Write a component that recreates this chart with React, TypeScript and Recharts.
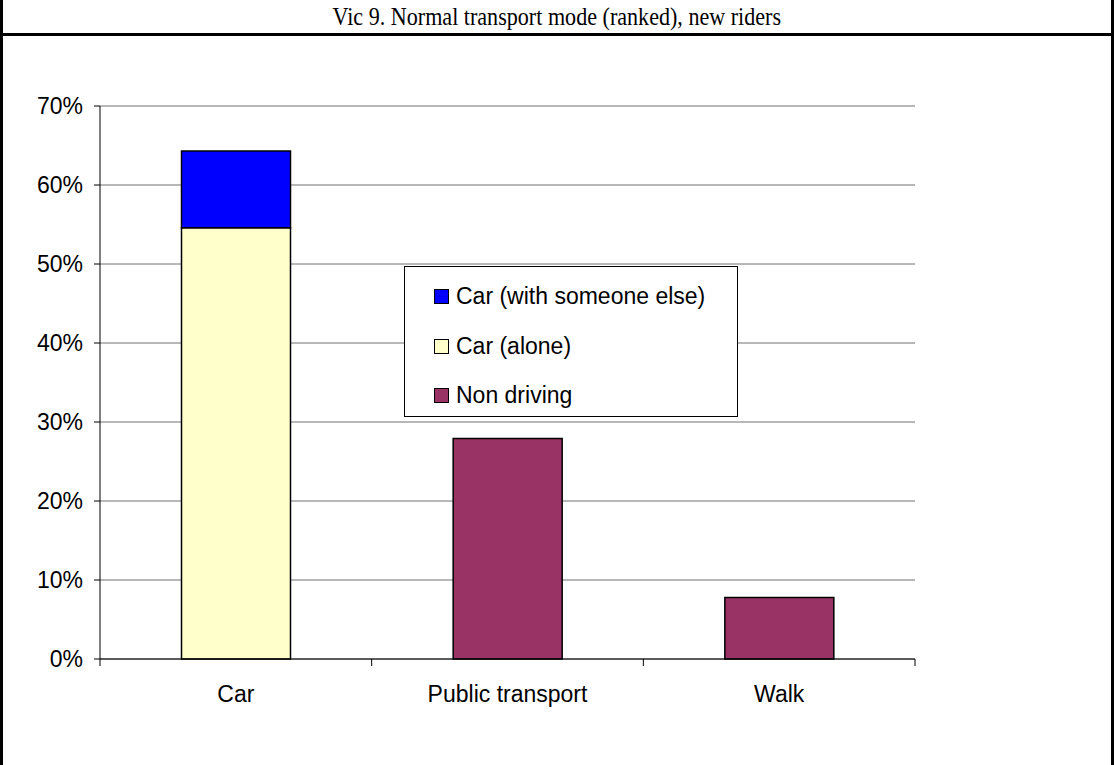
import { Bar, BarChart, CartesianGrid, XAxis, YAxis } from 'recharts'

const categories = ['Car', 'Public transport', 'Walk']
const carAlone = [54.6, null, null]
const carWithOther = [9.7, null, null]
const nonDriving = [null, 27.9, 7.8]
const yTicks = [0, 10, 20, 30, 40, 50, 60, 70]

const series = [
  { key: 'carWithOther', name: 'Car (with someone else)', color: '#0000ff' },
  { key: 'carAlone', name: 'Car (alone)', color: '#ffffcc' },
  { key: 'nonDriving', name: 'Non driving', color: '#993366' },
]

const data = categories.map((name, i) => ({
  name,
  carAlone: carAlone[i],
  carWithOther: carWithOther[i],
  nonDriving: nonDriving[i],
}))

const FONT = '"Liberation Sans", Arial, sans-serif'

// category label in the middle, tick marks at the band edges (Excel style)
function CategoryTick(props: any) {
  const { x, y, payload, width, visibleTicksCount, index } = props
  const band = width / visibleTicksCount
  const left = x - band / 2
  return (
    <g>
      <line x1={left} x2={left} y1={y - 8} y2={y - 1} stroke="#000" />
      {index === visibleTicksCount - 1 && (
        <line x1={left + band} x2={left + band} y1={y - 8} y2={y - 1} stroke="#000" />
      )}
      <text x={x} y={y} dy={35} textAnchor="middle" fill="#000" fontSize={23} fontFamily={FONT}>
        {payload.value}
      </text>
    </g>
  )
}

export default function App() {
  return (
    <div
      style={{
        position: 'absolute',
        left: 0,
        top: 0,
        width: 1114,
        height: 765,
        background: '#fff',
        overflow: 'hidden',
      }}
    >
      {/* frame + title */}
      <div
        style={{
          position: 'absolute',
          left: 0,
          top: 0,
          width: 1108,
          height: 765,
          borderLeft: '3px solid #000',
          borderRight: '3px solid #000',
        }}
      />
      <div
        style={{
          position: 'absolute',
          left: 0,
          top: 0,
          width: 1114,
          height: 33,
          borderBottom: '3px solid #000',
          textAlign: 'center',
          fontFamily: '"Liberation Serif", "Times New Roman", serif',
          fontSize: 26,
          lineHeight: '34px',
          color: '#000',
        }}
      >
        <span style={{ display: 'inline-block', transform: 'scaleX(0.85)' }}>
          Vic 9. Normal transport mode (ranked), new riders
        </span>
      </div>

      <div style={{ position: 'absolute', left: 0, top: 0 }}>
        <BarChart
          width={1114}
          height={765}
          data={data}
          margin={{ top: 106, right: 199, left: 40, bottom: 66 }}
          barCategoryGap="30%"
        >
          <CartesianGrid vertical={false} stroke="#707070" />
          <XAxis
            dataKey="name"
            axisLine={{ stroke: '#000' }}
            tickLine={false}
            tick={<CategoryTick />}
            height={40}
            interval={0}
          />
          <YAxis
            domain={[0, 70]}
            ticks={yTicks}
            tickFormatter={(v: number) => `${v}%`}
            axisLine={{ stroke: '#000' }}
            tickLine={{ stroke: '#000' }}
            tickSize={6}
            tickMargin={11}
            width={60}
            tick={{ fill: '#000', fontSize: 23, fontFamily: FONT }}
          />
          <YAxis
            yAxisId="frame"
            orientation="right"
            domain={[0, 70]}
            tick={false}
            tickLine={false}
            axisLine={{ stroke: '#999', strokeWidth: 2 }}
            width={0}
          />
          <Bar dataKey="carAlone" stackId="a" fill="#ffffcc" stroke="#000" strokeWidth={1.5} isAnimationActive={false} />
          <Bar dataKey="carWithOther" stackId="a" fill="#0000ff" stroke="#000" strokeWidth={1.5} isAnimationActive={false} />
          <Bar dataKey="nonDriving" stackId="a" fill="#993366" stroke="#000" strokeWidth={1.5} isAnimationActive={false} />
        </BarChart>
      </div>

      {/* legend */}
      <div
        style={{
          position: 'absolute',
          left: 404,
          top: 266,
          width: 332,
          height: 149,
          border: '1px solid #000',
          background: '#fff',
          fontFamily: FONT,
          fontSize: 23,
          color: '#000',
        }}
      >
        {series.map((s, i) => (
          <div
            key={s.key}
            style={{
              position: 'absolute',
              left: 29,
              top: 16 + i * 49.5,
              height: 27,
              display: 'flex',
              alignItems: 'center',
              whiteSpace: 'nowrap',
            }}
          >
            <span
              style={{
                display: 'inline-block',
                width: 13,
                height: 13,
                background: s.color,
                border: '1px solid #000',
                marginRight: 7,
              }}
            />
            {s.name}
          </div>
        ))}
      </div>
    </div>
  )
}
